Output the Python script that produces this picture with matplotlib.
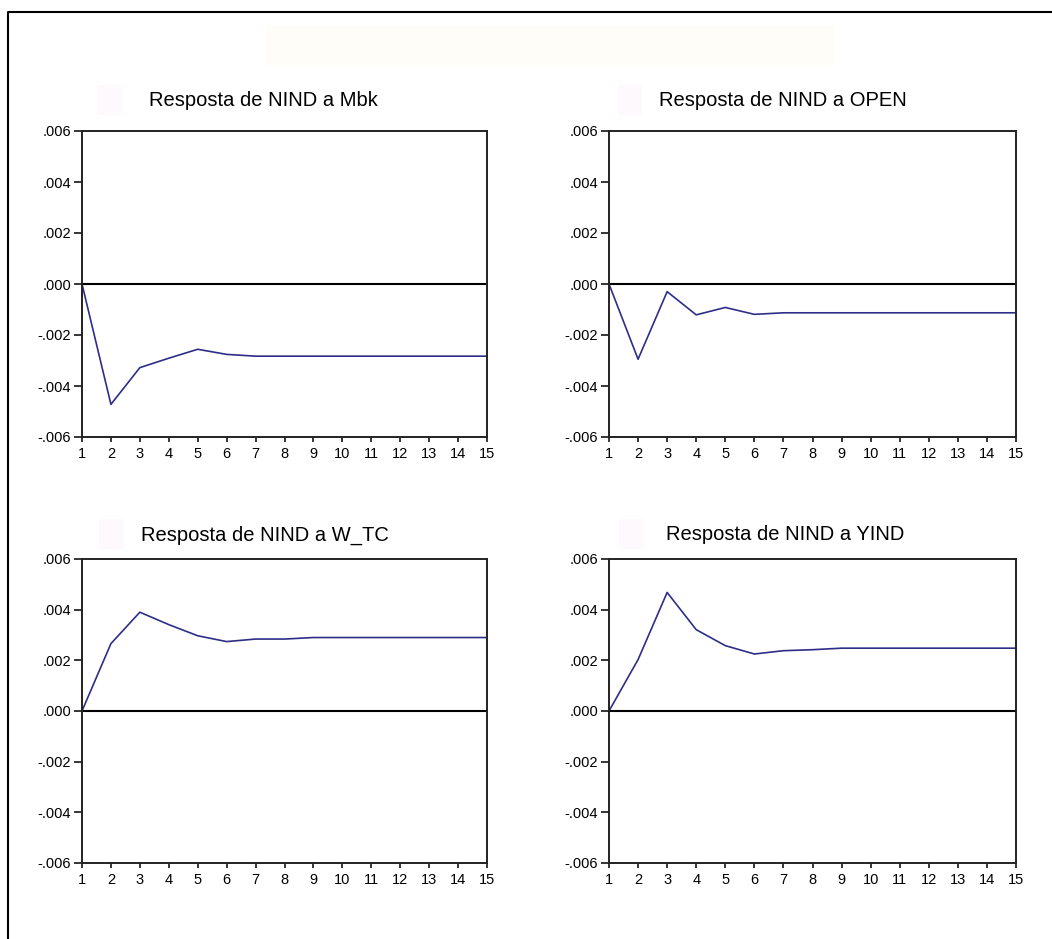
import matplotlib.pyplot as plt
import numpy as np
from matplotlib.lines import Line2D
from matplotlib.patches import Rectangle
from matplotlib.ticker import FuncFormatter

plt.rcParams['font.family'] = ['Liberation Sans', 'DejaVu Sans']

# --- Daten (Impulsantworten) ---
periods = list(range(1, 16))
titles = ["Resposta de NIND a Mbk", "Resposta de NIND a OPEN",
          "Resposta de NIND a W_TC", "Resposta de NIND a YIND"]
resp_mbk = [0.0, -0.00472, -0.00328, -0.00291, -0.00256, -0.00276, -0.00283,
            -0.00283, -0.00283, -0.00283, -0.00283, -0.00283, -0.00283, -0.00283, -0.00283]
resp_open = [0.0, -0.00295, -0.00030, -0.00121, -0.00092, -0.00119, -0.00113,
             -0.00113, -0.00113, -0.00113, -0.00113, -0.00113, -0.00113, -0.00113, -0.00113]
resp_wtc = [0.0, 0.00266, 0.00390, 0.00341, 0.00297, 0.00274, 0.00284,
            0.00284, 0.00290, 0.00290, 0.00290, 0.00290, 0.00290, 0.00290, 0.00290]
resp_yind = [0.0, 0.00203, 0.00468, 0.00321, 0.00258, 0.00225, 0.00238,
             0.00242, 0.00248, 0.00248, 0.00248, 0.00248, 0.00248, 0.00248, 0.00248]
series = [resp_mbk, resp_open, resp_wtc, resp_yind]
yticks = [-0.006, -0.004, -0.002, 0.0, 0.002, 0.004, 0.006]

W, H = 1052, 939
fig = plt.figure(figsize=(W / 100, H / 100), dpi=100)

# Achsenpositionen in Pixel (links, oben, rechts, unten)
boxes = [(82, 131, 487, 437), (609, 131, 1016, 437),
         (82, 559, 487, 863), (609, 559, 1016, 863)]
title_pos = [(263, 101), (783, 101), (265, 535), (785, 535)]


def fmt(v, pos):
    s = f"{v:.3f}"
    return s.replace("0.", ".", 1)


for box, tp, title, y in zip(boxes, title_pos, titles, series):
    l, t, r, b = box
    ax = fig.add_axes([l / W, 1 - b / H, (r - l) / W, (b - t) / H])
    ax.plot(periods, y, color='#2e2e88', lw=1.2)
    ax.axhline(0, color='black', lw=1.5)
    ax.set_xlim(1, 15)
    ax.set_ylim(-0.006, 0.006)
    ax.set_xticks(periods)
    ax.set_yticks(yticks)
    ax.yaxis.set_major_formatter(FuncFormatter(fmt))
    ax.tick_params(axis='y', direction='out', length=6, width=1.1, pad=2, labelsize=10.5)
    ax.tick_params(axis='x', direction='out', length=3.5, width=1.1, pad=4, labelsize=10.5)
    for sp in ax.spines.values():
        sp.set_linewidth(1.4)
        sp.set_color('#222222')
    fig.text(tp[0] / W, 1 - tp[1] / H, title, ha='center', va='center', fontsize=14.5)
    # schwache Kaestchen vor den Titeln
    fig.add_artist(Rectangle(((tp[0] - 166) / W, 1 - (tp[1] + 14) / H), 25 / W, 30 / H,
                             transform=fig.transFigure, facecolor='#fdf9fc', edgecolor='none', zorder=0))

# schwache Box oben
fig.add_artist(Rectangle((265 / W, 1 - 65 / H), 570 / W, 40 / H, transform=fig.transFigure,
                         facecolor='#fffdf8', edgecolor='none', zorder=0))

# Rahmen oben und links
fig.add_artist(Line2D([8 / W, 8 / W, 1.0], [0.0, 1 - 12 / H, 1 - 12 / H],
                      transform=fig.transFigure, color='black', lw=1.5))

plt.savefig('out.png', dpi=100)
